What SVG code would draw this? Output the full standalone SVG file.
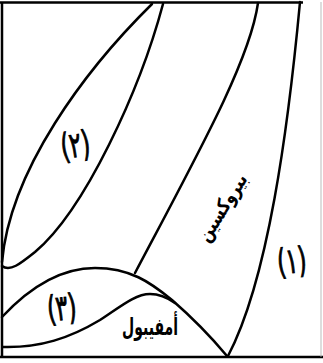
<svg xmlns="http://www.w3.org/2000/svg" width="323" height="363" viewBox="0 0 323 363">
<style>
.ln{fill:none;stroke:#000;stroke-width:2.5;stroke-linecap:round;stroke-linejoin:round}
.fr{fill:none;stroke:#000;stroke-width:2.5}
.lbl{font-family:"DejaVu Sans",sans-serif;font-weight:bold;fill:#000;text-anchor:middle}
.num{font-family:"DejaVu Sans",sans-serif;font-weight:normal;fill:#000;stroke:#000;stroke-width:0.8;text-anchor:middle}
</style>
<rect width="323" height="363" fill="#fff"/>
<g id="frame">
<line class="fr" x1="2" y1="2" x2="2" y2="357"/>
<line class="fr" x1="0" y1="2.5" x2="303" y2="2.5"/>
<line class="fr" x1="0" y1="357" x2="323" y2="357"/>
<line x1="321" y1="2" x2="321" y2="357" stroke="#aaa" stroke-width="0.8"/>
</g>
<g id="connectors">
<path class="ln" d="M2,262 C10,170 85,70 152,4"/>
<path class="ln" d="M163,4 C140,90 85,210 35,252 C20,264 10,272 2,266"/>
<path class="ln" d="M258,3 C250,60 200,150 135,273"/>
<path class="ln" d="M300,2 C288,130 268,280 228,356"/>
<path class="ln" d="M2,317 C30,287 60,268 95,268 C130,268 150,282 172,300 C195,320 212,338 227,356"/>
<path class="ln" d="M3,347 C40,348 70,338 100,320 C120,307 135,294 150,294 C160,294 168,298 175,303"/>
</g>
<g id="region2"><text class="num" font-size="26" transform="translate(77,157) rotate(-8) scale(0.85,1.35)">(٢)</text></g>
<g id="region1"><text class="num" font-size="26" transform="translate(293,273) rotate(-6) scale(0.85,1.35)">(١)</text></g>
<g id="region3"><text class="num" font-size="26" transform="translate(63,320) rotate(-6) scale(0.85,1.35)">(٣)</text></g>
<g id="amphibole"><text class="lbl" font-size="24" x="150" y="335" textLength="56" lengthAdjust="spacingAndGlyphs">أمفيبول</text></g>
<g id="pyroxene"><text class="lbl" font-size="20" transform="translate(228,211) rotate(-58)" textLength="76" lengthAdjust="spacingAndGlyphs">بيروكسين</text></g>
</svg>
